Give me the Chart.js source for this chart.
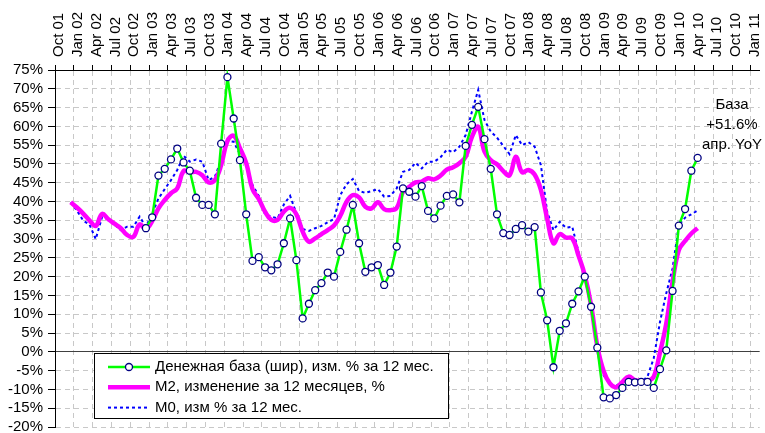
<!DOCTYPE html>
<html>
<head>
<meta charset="utf-8">
<script src="https://cdn.jsdelivr.net/npm/chart.js@4.4.1/dist/chart.umd.min.js"></script>
<style>
  html, body { margin: 0; padding: 0; background: #fff; }
  canvas { display: block; }
</style>
</head>
<body>
<canvas id="moneyChart" width="765" height="433"></canvas>
<script>
// quarterly labels on the top axis
var tickLabels = [
    'Oct 01', 'Jan 02', 'Apr 02', 'Jul 02', 'Oct 02', 'Jan 03', 'Apr 03', 'Jul 03',
    'Oct 03', 'Jan 04', 'Apr 04', 'Jul 04', 'Oct 04', 'Jan 05', 'Apr 05', 'Jul 05',
    'Oct 05', 'Jan 06', 'Apr 06', 'Jul 06', 'Oct 06', 'Jan 07', 'Apr 07', 'Jul 07',
    'Oct 07', 'Jan 08', 'Apr 08', 'Jul 08', 'Oct 08', 'Jan 09', 'Apr 09', 'Jul 09',
    'Oct 09', 'Jan 10', 'Apr 10', 'Jul 10', 'Oct 10', 'Jan 11'
];

// Денежная база (шир), monthly from Dec 2002
var baseStart = [2002, 12];
var baseValues = [
    32.9, 35.8, 46.9, 48.7, 51.2, 54.1, 50.4, 48.2, 41.0, 39.1, 39.1, 36.6,
    55.4, 73.1, 62.1, 51.0, 36.6, 24.2, 25.2, 22.5, 21.7, 23.3, 28.9, 35.5,
    24.4, 8.9, 12.8, 16.4, 18.3, 21.1, 20.0, 26.6, 32.5, 39.1, 28.9, 21.3,
    22.5, 23.1, 17.8, 21.1, 28.0, 43.5, 42.6, 41.3, 44.1, 37.5, 35.5, 38.9,
    41.5, 41.9, 39.8, 54.8, 60.4, 65.2, 56.6, 48.7, 36.6, 31.6, 31.1, 32.7,
    33.7, 32.0, 33.2, 15.8, 8.4, -4.1, 5.6, 7.6, 12.8, 16.1, 20.0, 12.0,
    1.1, -12.1, -12.4, -11.5, -9.6, -8.0, -8.1, -8.0, -8.0, -9.6, -4.6, 0.4,
    16.2, 33.6, 38.0, 48.2, 51.6
];

// M2, monthly from Dec 2001
var m2Start = [2001, 12];
var m2Values = [
    39.8, 38.4, 36.8, 35.0, 33.5, 36.7, 35.3, 34.1, 32.9, 31.1, 30.6, 33.9,
    32.7, 34.8, 38.2, 40.4, 42.2, 43.5, 48.1, 47.8, 47.9, 47.0, 45.1, 45.7,
    49.7, 56.1, 57.5, 54.2, 50.2, 43.3, 40.7, 37.3, 35.1, 35.1, 37.3, 38.3,
    36.6, 32.0, 29.3, 30.2, 31.3, 32.4, 33.6, 36.2, 39.9, 41.7, 41.1, 38.6,
    38.2, 39.8, 38.0, 37.7, 38.3, 42.6, 43.9, 45.1, 45.3, 46.2, 45.9, 46.9,
    48.5, 49.1, 50.2, 51.9, 57.2, 59.9, 53.3, 51.0, 49.9, 48.1, 47.0, 51.9,
    47.8, 48.4, 47.2, 43.1, 35.5, 28.9, 31.3, 30.4, 30.2, 25.6, 20.4, 12.5,
    1.5, -5.1, -8.4, -9.4, -8.0, -6.6, -7.5, -7.8, -7.8, -6.6, -0.1, 7.6,
    18.6, 27.1, 29.5, 31.5, 32.9
];

// M0, monthly from Dec 2001
var m0Start = [2001, 12];
var m0Values = [
    39.8, 37.6, 34.9, 33.9, 30.0, 35.8, 35.3, 33.9, 32.4, 33.3, 33.3, 36.0,
    33.3, 36.8, 40.8, 43.3, 45.7, 48.4, 52.2, 50.6, 51.2, 50.6, 45.7, 46.6,
    51.0, 56.1, 55.9, 52.6, 49.7, 44.4, 41.5, 36.6, 36.0, 35.5, 39.2, 41.5,
    36.8, 32.7, 32.2, 32.9, 33.5, 34.5, 35.3, 41.7, 44.6, 46.0, 42.8, 42.3,
    42.8, 43.3, 41.3, 41.5, 43.5, 47.9, 48.4, 50.3, 48.8, 50.6, 50.6, 51.8,
    53.8, 53.1, 54.6, 57.7, 63.9, 69.7, 61.7, 58.6, 57.0, 54.8, 52.6, 57.7,
    55.0, 55.8, 54.6, 49.7, 37.3, 32.4, 34.6, 33.0, 33.3, 26.6, 20.4, 12.4,
    1.8, -6.2, -8.6, -9.1, -7.8, -8.0, -8.0, -8.0, -6.6, -1.7, 8.0, 15.6,
    22.2, 33.7, 35.7, 36.6, 37.6
];

var noteLines = ['База', '+51.6%', 'апр. YoY'];

// months counted from Oct 2001, points sit mid-month
function monthIndex(ym) {
    return (ym[0] - 2001) * 12 + ym[1] - 10;
}
function toPoints(start, values) {
    var k0 = monthIndex(start);
    return values.map(function (v, i) {
        return { x: k0 + i + 0.5, y: v };
    });
}

var FONT = "'Liberation Sans', Arial, sans-serif";

// legend box in the lower left and the note on the right
var overlay = {
    id: 'overlay',
    afterDraw: function (chart) {
        var ctx = chart.ctx;
        ctx.save();
        ctx.fillStyle = '#fff';
        ctx.fillRect(94.5, 353.5, 354, 65);
        ctx.strokeStyle = '#000';
        ctx.lineWidth = 1;
        ctx.strokeRect(94.5, 353.5, 354, 65);
        ctx.font = '15px ' + FONT;
        ctx.textBaseline = 'middle';
        chart.data.datasets.forEach(function (ds, i) {
            var y = 367 + i * 20.3;
            ctx.strokeStyle = ds.borderColor;
            ctx.lineWidth = ds.borderWidth;
            ctx.setLineDash(ds.borderDash || []);
            ctx.beginPath();
            ctx.moveTo(108, y);
            ctx.lineTo(150, y);
            ctx.stroke();
            ctx.setLineDash([]);
            if (ds.pointRadius) {
                ctx.beginPath();
                ctx.arc(129, y, ds.pointRadius, 0, Math.PI * 2);
                ctx.fillStyle = ds.pointBackgroundColor;
                ctx.fill();
                ctx.lineWidth = ds.pointBorderWidth;
                ctx.strokeStyle = ds.pointBorderColor;
                ctx.stroke();
            }
            ctx.fillStyle = '#000';
            ctx.textAlign = 'left';
            ctx.fillText(ds.label, 155, y);
        });
        ctx.textAlign = 'center';
        noteLines.forEach(function (t, i) {
            ctx.fillText(t, 732, 105 + i * 20);
        });
        ctx.restore();
    }
};

var config = {
    type: 'line',
    data: {
        datasets: [{
            label: 'Денежная база (шир), изм. % за 12 мес.',
            data: toPoints(baseStart, baseValues),
            borderColor: '#00ff00',
            borderWidth: 2.5,
            pointRadius: 3.5,
            pointBackgroundColor: '#ffffff',
            pointBorderColor: '#000080',
            pointBorderWidth: 1.3,
            tension: 0
        }, {
            label: 'M2, изменение за 12 месяцев, %',
            data: toPoints(m2Start, m2Values),
            borderColor: '#ff00ff',
            borderWidth: 4.5,
            pointRadius: 0,
            tension: 0.4
        }, {
            label: 'M0, изм % за 12 мес.',
            data: toPoints(m0Start, m0Values),
            borderColor: '#0000ff',
            borderWidth: 2,
            borderDash: [3, 3],
            pointRadius: 0,
            tension: 0
        }]
    },
    options: {
        responsive: false,
        animation: false,
        layout: { padding: 0 },
        plugins: {
            legend: { display: false },
            tooltip: { enabled: false }
        },
        scales: {
            x: {
                type: 'linear',
                position: 'top',
                min: 0,
                max: 112.4,
                afterBuildTicks: function (s) {
                    s.ticks = tickLabels.map(function (_, i) { return { value: i * 3 }; });
                },
                afterFit: function (s) {
                    s.height = 70;
                    s.paddingLeft = 0;
                    s.paddingRight = 0;
                },
                ticks: {
                    autoSkip: false,
                    minRotation: 90,
                    maxRotation: 90,
                    padding: 8,
                    labelOffset: 22,
                    color: '#000',
                    font: { family: FONT, size: 15 },
                    callback: function (v) { return tickLabels[Math.round(v / 3)]; }
                },
                grid: {
                    color: '#c8c8c8',
                    tickColor: '#000',
                    tickLength: 5,
                    tickBorderDash: []
                },
                border: { color: '#000', width: 1, dash: [5, 4] }
            },
            y: {
                min: -20,
                max: 75,
                afterFit: function (s) {
                    s.width = 55;
                    s.paddingTop = 0;
                    s.paddingBottom = 6;
                },
                ticks: {
                    stepSize: 5,
                    autoSkip: false,
                    padding: 5,
                    color: '#000',
                    font: { family: FONT, size: 15 },
                    callback: function (v) { return v + '%'; }
                },
                grid: {
                    color: function (c) { return c.tick && c.tick.value === 0 ? '#404040' : '#c8c8c8'; },
                    tickColor: '#000',
                    tickLength: 7,
                    tickBorderDash: []
                },
                border: {
                    color: '#000',
                    width: 1,
                    dash: function (c) { return c.tick && c.tick.value === 0 ? [] : [5, 4]; }
                }
            }
        }
    },
    plugins: [overlay]
};

var chart = new Chart(document.getElementById('moneyChart').getContext('2d'), config);
</script>
</body>
</html>
